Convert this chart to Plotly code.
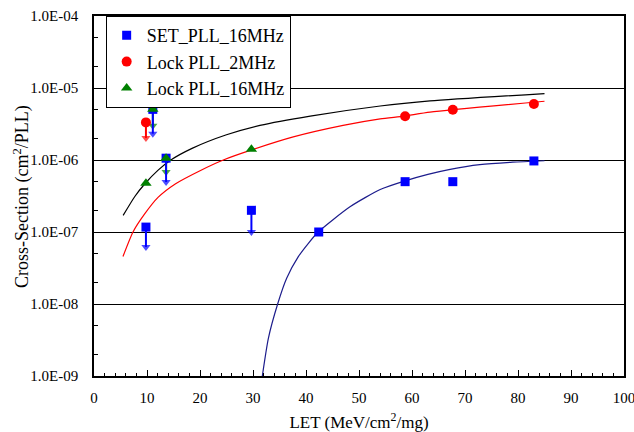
import plotly.graph_objects as go

# Measured cross-sections (cm^2/PLL) versus LET (MeV.cm^2/mg)
set_let = [9.8, 11.1, 13.6, 29.7, 42.4, 58.7, 67.7, 83.0]
set_xs = [1.17e-7, 5.05e-6, 1.06e-6, 2.0e-7, 1.0e-7, 5.0e-7, 5.0e-7, 0.97e-6]

lock2_let = [9.8, 58.7, 67.7, 83.0]
lock2_xs = [3.33e-6, 4.05e-6, 5.0e-6, 6.0e-6]

lock16_let = [9.8, 11.1, 13.6, 29.7]
lock16_xs = [4.75e-7, 5.05e-6, 1.06e-6, 1.41e-6]

# Upper-limit arrows: (LET, from value, arrow tip value)
set_limits = [(9.8, 1.17e-7, 6.2e-8), (11.1, 5.05e-6, 2.32e-6),
              (13.6, 1.06e-6, 4.95e-7), (29.7, 2.0e-7, 1.0e-7)]
lock2_limits = [(9.8, 3.33e-6, 2.02e-6)]
lock16_limits = [(11.1, 5.05e-6, 3.0e-6), (13.6, 1.06e-6, 6.8e-7)]

# Fitted curves
fit16_let = [5.5, 7.67, 9.6, 12.1, 14.5, 18.5, 25.0, 31.3, 40.8, 54.0, 63.4, 85.0]
fit16_xs = [1.70e-7, 3.09e-7, 4.68e-7, 7.24e-7, 1.0e-6, 1.45e-6, 2.24e-6,
            3.02e-6, 4.07e-6, 5.62e-6, 6.61e-6, 8.38e-6]

fit2_let = [5.47, 7.36, 9.56, 12.08, 15.4, 20.1, 24.4, 29.75, 37.6, 47.0, 54.0,
            58.5, 63.4, 85.0]
fit2_xs = [4.57e-8, 1.0e-7, 1.78e-7, 3.02e-7, 4.68e-7, 7.16e-7, 1.0e-6, 1.38e-6,
           2.09e-6, 3.02e-6, 3.72e-6, 4.07e-6, 4.62e-6, 6.55e-6]

fitset_let = [31.76, 32.9, 34.65, 36.35, 38.55, 40.45, 42.3, 48.3, 54.0, 58.7,
              63.0, 67.2, 72.8, 79.0, 85.0]
fitset_xs = [1.0e-9, 3.34e-9, 1.0e-8, 2.28e-8, 4.54e-8, 6.97e-8, 1.0e-7,
             2.24e-7, 3.89e-7, 5.13e-7, 6.31e-7, 7.41e-7, 8.61e-7, 9.33e-7, 9.77e-7]

y_tickvals = [1e-9, 1e-8, 1e-7, 1e-6, 1e-5, 1e-4]
y_ticktext = ["1.0E-09", "1.0E-08", "1.0E-07", "1.0E-06", "1.0E-05", "1.0E-04"]

BLUE = "#0000FF"
RED = "#FF0000"
GREEN = "#008000"
SERIF = "Times New Roman"

fig = go.Figure()

# fitted curves
for xs, ys, col in [(fit16_let, fit16_xs, "black"),
                    (fit2_let, fit2_xs, RED),
                    (fitset_let, fitset_xs, "#1C1C8C")]:
    fig.add_trace(go.Scatter(x=xs, y=ys, mode="lines",
                             line=dict(color=col, width=1.2, shape="spline", smoothing=0.6),
                             showlegend=False, hoverinfo="skip"))


# downward arrows marking upper limits
def add_limit_arrows(limits, color):
    for let, top, tip in limits:
        fig.add_trace(go.Scatter(
            x=[let, let], y=[top, tip], mode="lines+markers",
            line=dict(color=color, width=2),
            marker=dict(symbol=["circle", "triangle-down"], size=[0, 8], color=color,
                        line=dict(width=0)),
            showlegend=False, hoverinfo="skip"))


add_limit_arrows(lock16_limits, GREEN)
add_limit_arrows(lock2_limits, RED)
add_limit_arrows(set_limits, BLUE)

fig.add_trace(go.Scatter(x=set_let, y=set_xs, mode="markers", name="SET_PLL_16MHz",
                         marker=dict(symbol="square", color=BLUE, size=9)))
fig.add_trace(go.Scatter(x=lock2_let, y=lock2_xs, mode="markers", name="Lock PLL_2MHz",
                         marker=dict(symbol="circle", color=RED, size=10)))
fig.add_trace(go.Scatter(x=lock16_let, y=lock16_xs, mode="markers", name="Lock PLL_16MHz",
                         marker=dict(symbol="triangle-up", color=GREEN, size=10)))

# vertical axis title, placed beside the tick labels
fig.add_annotation(text="Cross-Section (cm<sup>2</sup>/PLL)", textangle=-90,
                   xref="paper", yref="paper", x=-0.136, y=0.5,
                   xanchor="center", yanchor="middle", showarrow=False,
                   font=dict(family=SERIF, size=18, color="black"))

fig.update_layout(
    width=634, height=432,
    margin=dict(l=94, r=10, t=16, b=56),
    paper_bgcolor="white", plot_bgcolor="white",
    font=dict(family=SERIF, color="black", size=15),
    legend=dict(x=0.022, y=1.0, xanchor="left", yanchor="top",
                bgcolor="white", bordercolor="black", borderwidth=1,
                font=dict(family=SERIF, size=18, color="black"),
                itemwidth=30),
    xaxis=dict(range=[0, 100], dtick=10, tick0=0, automargin=False,
               ticklabeloverflow="allow",
               showline=True, linecolor="black", linewidth=1.5, mirror=True,
               ticks="inside", ticklen=6, tickwidth=1, tickcolor="black",
               minor=dict(ticks="inside", ticklen=3, dtick=2, tickcolor="black"),
               showgrid=False, zeroline=False, ticklabelstandoff=7,
               tickfont=dict(family=SERIF, size=15),
               title=dict(text="LET (MeV/cm<sup>2</sup>/mg)",
                          font=dict(family=SERIF, size=17), standoff=15)),
    yaxis=dict(type="log", range=[-9, -4], automargin=False,
               tickvals=y_tickvals, ticktext=y_ticktext,
               showline=True, linecolor="black", linewidth=1.5, mirror=True,
               ticks="inside", ticklen=6, tickwidth=1, tickcolor="black",
               minor=dict(ticks="inside", ticklen=4, tickcolor="black"),
               showgrid=True, gridcolor="black", gridwidth=1,
               zeroline=False, ticklabelstandoff=11,
               tickfont=dict(family=SERIF, size=15)),
)

fig.write_html("out.html")
